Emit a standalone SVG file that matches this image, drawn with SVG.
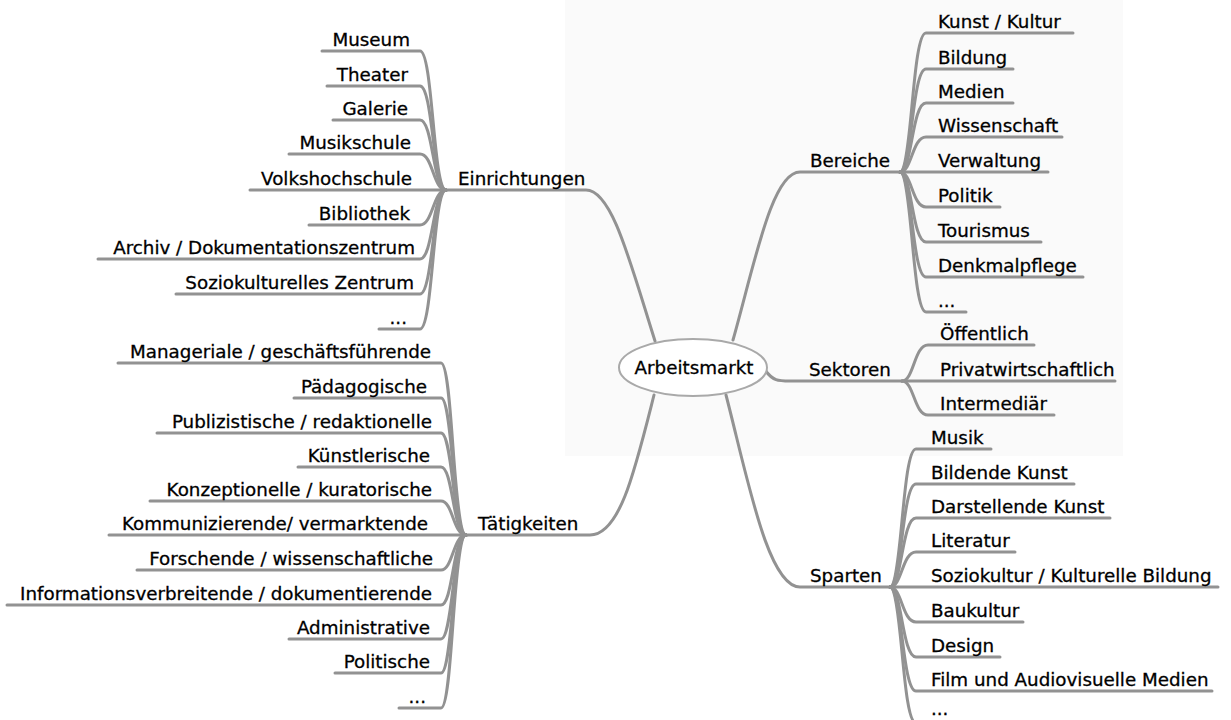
<svg xmlns="http://www.w3.org/2000/svg" width="1231" height="720" viewBox="0 0 1231 720">
<style>
.br{fill:none;stroke:#929292;stroke-width:3;stroke-linecap:round;stroke-linejoin:round}
.t{font-family:"DejaVu Sans","Liberation Sans",sans-serif;font-size:18.3px;fill:#000;stroke:#000;stroke-width:0.3}
.e{text-anchor:end}
.c{text-anchor:middle}
</style>
<rect x="0" y="0" width="1231" height="720" fill="#ffffff"/>
<rect x="565" y="0" width="558" height="456" fill="#fafafa"/>
<g id="connectors">
  <path class="br" d="M655,341 C630,262 612,190 586,190 L446,190"/>
  <path class="br" d="M733,340 C755,262 772,172 800,172 L900,172"/>
  <path class="br" d="M765,370 C773,381 778,381 790,381 L902,381"/>
  <path class="br" d="M726,395 C748,480 768,587 800,587 L890,587"/>
  <path class="br" d="M654,395 C635,470 620,535 590,535 L466,535"/>
  <path class="br" d="M446,190 C433,190 433,51 420,51 L322,51"/>
  <path class="br" d="M446,190 C433,190 433,86 420,86 L327,86"/>
  <path class="br" d="M446,190 C433,190 433,120 420,120 L333,120"/>
  <path class="br" d="M446,190 C433,190 433,154 420,154 L289,154"/>
  <path class="br" d="M446,190 L250,190"/>
  <path class="br" d="M446,190 C433,190 433,225 420,225 L309,225"/>
  <path class="br" d="M446,190 C433,190 433,259 420,259 L98,259"/>
  <path class="br" d="M446,190 C433,190 433,294 420,294 L176,294"/>
  <path class="br" d="M446,190 C433,190 433,329 420,329 L379,329"/>
  <path class="br" d="M466,535 C453,535 453,363 441,363 L118,363"/>
  <path class="br" d="M466,535 C453,535 453,398 441,398 L294,398"/>
  <path class="br" d="M466,535 C453,535 453,433 441,433 L157,433"/>
  <path class="br" d="M466,535 C453,535 453,467 441,467 L298,467"/>
  <path class="br" d="M466,535 C453,535 453,501 441,501 L150,501"/>
  <path class="br" d="M466,535 L109,535"/>
  <path class="br" d="M466,535 C453,535 453,570 441,570 L137,570"/>
  <path class="br" d="M466,535 C453,535 453,605 441,605 L7,605"/>
  <path class="br" d="M466,535 C453,535 453,639 441,639 L289,639"/>
  <path class="br" d="M466,535 C453,535 453,673 441,673 L335,673"/>
  <path class="br" d="M466,535 C453,535 453,708 441,708 L399,708"/>
  <path class="br" d="M900,172 C912,172 912,33 926,33 L1073,33"/>
  <path class="br" d="M900,172 C912,172 912,69 926,69 L1013,69"/>
  <path class="br" d="M900,172 C912,172 912,103 926,103 L1013,103"/>
  <path class="br" d="M900,172 C912,172 912,137 926,137 L1062,137"/>
  <path class="br" d="M900,172 L1048,172"/>
  <path class="br" d="M900,172 C912,172 912,207 926,207 L1000,207"/>
  <path class="br" d="M900,172 C912,172 912,242 926,242 L1041,242"/>
  <path class="br" d="M900,172 C912,172 912,277 926,277 L1083,277"/>
  <path class="br" d="M900,172 C912,172 912,312 926,312 L966,312"/>
  <path class="br" d="M902,381 C914,381 914,345 928,345 L1034,345"/>
  <path class="br" d="M902,381 L1115,381"/>
  <path class="br" d="M902,381 C914,381 914,415 928,415 L1054,415"/>
  <path class="br" d="M890,587 C902,587 902,449 916,449 L991,449"/>
  <path class="br" d="M890,587 C902,587 902,484 916,484 L1074,484"/>
  <path class="br" d="M890,587 C902,587 902,518 916,518 L1110,518"/>
  <path class="br" d="M890,587 C902,587 902,552 916,552 L1015,552"/>
  <path class="br" d="M890,587 L1218,587"/>
  <path class="br" d="M890,587 C902,587 902,622 916,622 L1023,622"/>
  <path class="br" d="M890,587 C902,587 902,657 916,657 L1000,657"/>
  <path class="br" d="M890,587 C902,587 902,691 916,691 L1212,691"/>
  <path class="br" d="M890,587 C902,587 902,723 916,723 L960,723"/>
</g>
<g id="center">
  <ellipse cx="693" cy="367.5" rx="74" ry="28.5" fill="#ffffff" stroke="#a9a9a9" stroke-width="2"/>
  <text class="t c" x="694" y="374">Arbeitsmarkt</text>
</g>
<g id="einrichtungen">
  <text class="t" x="458" y="185">Einrichtungen</text>
  <g id="einrichtungen-children">
    <text class="t e" x="410" y="46">Museum</text>
    <text class="t e" x="408" y="81">Theater</text>
    <text class="t e" x="408" y="115">Galerie</text>
    <text class="t e" x="411" y="149">Musikschule</text>
    <text class="t e" x="412" y="185">Volkshochschule</text>
    <text class="t e" x="410" y="220">Bibliothek</text>
    <text class="t e" x="415" y="254">Archiv / Dokumentationszentrum</text>
    <text class="t e" x="414" y="289">Soziokulturelles Zentrum</text>
    <text class="t e" x="407" y="324">...</text>
  </g>
</g>
<g id="taetigkeiten">
  <text class="t" x="478" y="530">Tätigkeiten</text>
  <g id="taetigkeiten-children">
    <text class="t e" x="431" y="358">Manageriale / geschäftsführende</text>
    <text class="t e" x="427" y="393">Pädagogische</text>
    <text class="t e" x="432" y="428">Publizistische / redaktionelle</text>
    <text class="t e" x="430" y="462">Künstlerische</text>
    <text class="t e" x="432" y="496">Konzeptionelle / kuratorische</text>
    <text class="t e" x="428" y="530">Kommunizierende/ vermarktende</text>
    <text class="t e" x="433" y="565">Forschende / wissenschaftliche</text>
    <text class="t e" x="432" y="600">Informationsverbreitende / dokumentierende</text>
    <text class="t e" x="430" y="634">Administrative</text>
    <text class="t e" x="430" y="668">Politische</text>
    <text class="t e" x="426" y="703">...</text>
  </g>
</g>
<g id="bereiche">
  <text class="t" x="810" y="167">Bereiche</text>
  <g id="bereiche-children">
    <text class="t" x="938" y="28">Kunst / Kultur</text>
    <text class="t" x="938" y="64">Bildung</text>
    <text class="t" x="938" y="98">Medien</text>
    <text class="t" x="938" y="132">Wissenschaft</text>
    <text class="t" x="938" y="167">Verwaltung</text>
    <text class="t" x="938" y="202">Politik</text>
    <text class="t" x="938" y="237">Tourismus</text>
    <text class="t" x="938" y="272">Denkmalpflege</text>
    <text class="t" x="938" y="307">...</text>
  </g>
</g>
<g id="sektoren">
  <text class="t" x="809" y="376">Sektoren</text>
  <g id="sektoren-children">
    <text class="t" x="940" y="340">Öffentlich</text>
    <text class="t" x="940" y="376">Privatwirtschaftlich</text>
    <text class="t" x="940" y="410">Intermediär</text>
  </g>
</g>
<g id="sparten">
  <text class="t" x="810" y="582">Sparten</text>
  <g id="sparten-children">
    <text class="t" x="931" y="444">Musik</text>
    <text class="t" x="931" y="479">Bildende Kunst</text>
    <text class="t" x="931" y="513">Darstellende Kunst</text>
    <text class="t" x="931" y="547">Literatur</text>
    <text class="t" x="931" y="582">Soziokultur / Kulturelle Bildung</text>
    <text class="t" x="931" y="617">Baukultur</text>
    <text class="t" x="931" y="652">Design</text>
    <text class="t" x="931" y="686">Film und Audiovisuelle Medien</text>
    <text class="t" x="931" y="715">...</text>
  </g>
</g>
</svg>
